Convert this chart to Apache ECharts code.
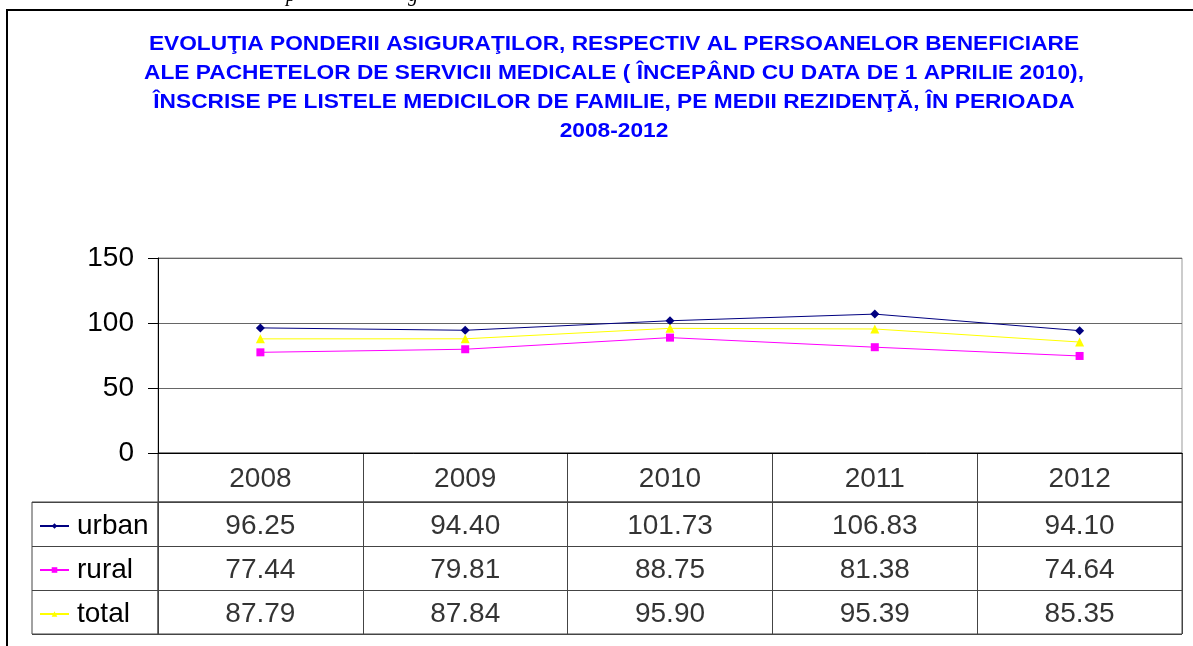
<!DOCTYPE html>
<html>
<head>
<meta charset="utf-8">
<script src="https://cdn.jsdelivr.net/npm/echarts@6/dist/echarts.min.js"></script>
<style>html,body{margin:0;padding:0;background:#fff}#c{width:1193px;height:646px}</style>
</head>
<body>
<div id="c"></div>
<script>
const years = ['2008', '2009', '2010', '2011', '2012'];
const urban = [96.25, 94.40, 101.73, 106.83, 94.10];
const rural = [77.44, 79.81, 88.75, 81.38, 74.64];
const total = [87.79, 87.84, 95.90, 95.39, 85.35];
const rowNames = ['urban', 'rural', 'total'];
const yTicks = { min: 0, max: 150, interval: 50 };
const titleText = 'EVOLUŢIA PONDERII ASIGURAŢILOR, RESPECTIV AL PERSOANELOR BENEFICIARE\nALE PACHETELOR DE SERVICII MEDICALE ( ÎNCEPÂND CU DATA DE 1 APRILIE 2010),\nÎNSCRISE PE LISTELE MEDICILOR DE FAMILIE, PE MEDII REZIDENŢĂ, ÎN PERIOADA\n2008-2012';

const FONT = "'Liberation Sans', Arial, sans-serif";
const colors = { urban: '#000080', rural: '#FF00FF', total: '#FFFF00' };
const symbols = { urban: ['diamond', 9], rural: ['rect', 8], total: ['triangle', 9] };
const seriesData = { urban, rural, total };

const chart = echarts.init(document.getElementById('c'), null, { renderer: 'canvas' });

const lineSeries = rowNames.map(n => ({
  name: n, type: 'line', xAxisIndex: 0, yAxisIndex: 0,
  data: seriesData[n], symbol: symbols[n][0], symbolSize: symbols[n][1],
  lineStyle: { color: colors[n], width: 1 }, itemStyle: { color: colors[n] },
  animation: false, z: 5
}));

const cellLabel = {
  show: true, position: 'inside', offset: [0, 2], fontFamily: FONT, fontSize: 28, color: '#000'
};

const headerSeries = {
  name: '_hdr', type: 'scatter', xAxisIndex: 1, yAxisIndex: 1,
  symbolSize: 1, itemStyle: { color: 'rgba(0,0,0,0)' },
  data: years.map((y, i) => [i, 0, y]),
  label: Object.assign({}, cellLabel, { formatter: p => p.value[2] }),
  silent: true, animation: false
};

const valueSeries = rowNames.map((n, r) => ({
  name: '_v_' + n, type: 'scatter', xAxisIndex: 2, yAxisIndex: 2,
  symbolSize: 1, itemStyle: { color: 'rgba(0,0,0,0)' },
  data: seriesData[n].map((v, i) => [i, r, v]),
  label: Object.assign({}, cellLabel, { formatter: p => p.value[2].toFixed(2) }),
  silent: true, animation: false
}));

const tableLine = { show: true, lineStyle: { color: '#444', width: 1 } };

const option = {
  backgroundColor: '#fff',
  animation: false,
  legend: {
    data: rowNames, orient: 'vertical', left: 39, top: 511, padding: 0,
    itemWidth: 29, itemHeight: 7, itemGap: 14, selectedMode: false,
    textStyle: { fontFamily: FONT, fontSize: 28, color: '#000', lineHeight: 30, padding: [0, 0, 0, 3] }
  },
  grid: [
    { left: 158, right: 11, top: 258, bottom: 193, show: true, borderColor: '#999', borderWidth: 1 },
    { left: 158, right: 11, top: 453, height: 49, show: true, borderColor: '#444', borderWidth: 1 },
    { left: 158, right: 11, top: 502, bottom: 12, show: true, borderColor: '#444', borderWidth: 1 },
    { left: 32, width: 126, top: 502, bottom: 12, show: true, borderColor: '#444', borderWidth: 1 }
  ],
  xAxis: [
    { gridIndex: 0, type: 'category', data: years, boundaryGap: true,
      axisLine: { show: true, lineStyle: { color: '#000', width: 1 } },
      axisTick: { show: false }, axisLabel: { show: false }, splitLine: { show: false } },
    { gridIndex: 1, type: 'category', data: years, boundaryGap: true,
      axisLine: { show: false }, axisTick: { show: false }, axisLabel: { show: false },
      splitLine: Object.assign({ interval: 0 }, tableLine) },
    { gridIndex: 2, type: 'category', data: years, boundaryGap: true,
      axisLine: { show: false }, axisTick: { show: false }, axisLabel: { show: false },
      splitLine: Object.assign({ interval: 0 }, tableLine) },
    { gridIndex: 3, type: 'value', show: false }
  ],
  yAxis: [
    { gridIndex: 0, type: 'value', min: yTicks.min, max: yTicks.max, interval: yTicks.interval,
      axisLine: { show: true, lineStyle: { color: '#000', width: 1 } },
      axisTick: { show: true, length: 10, lineStyle: { color: '#000' } },
      axisLabel: { fontFamily: FONT, fontSize: 28, color: '#000', margin: 24, padding: [4, 0, 0, 0] },
      splitLine: { show: true, lineStyle: { color: '#666', width: 1 } } },
    { gridIndex: 1, type: 'value', min: -1, max: 1, show: false },
    { gridIndex: 2, type: 'category', data: rowNames, inverse: true, boundaryGap: true,
      axisLine: { show: false }, axisTick: { show: false }, axisLabel: { show: false },
      splitLine: Object.assign({ interval: 0 }, tableLine) },
    { gridIndex: 3, type: 'category', data: rowNames, inverse: true, boundaryGap: true,
      axisLine: { show: false }, axisTick: { show: false }, axisLabel: { show: false },
      splitLine: Object.assign({ interval: 0 }, tableLine) }
  ],
  graphic: [
    { type: 'rect', shape: { x: 7, y: 10, width: 1300, height: 800 },
      style: { fill: 'none', stroke: '#000', lineWidth: 2 }, silent: true, z: -1 },
    { type: 'text', x: 286, y: -14, style: { text: 'p', font: "italic 20px 'Liberation Serif', serif", fill: '#000' }, silent: true },
    { type: 'text', x: 408, y: -14, style: { text: 'g', font: "italic 20px 'Liberation Serif', serif", fill: '#000' }, silent: true },
    { type: 'text', x: 614, y: 30.5, scaleX: 1.165, scaleY: 1,
      style: { text: titleText, fontFamily: FONT, fontSize: 19.5, fontWeight: 'bold', fill: '#0000FF',
               lineHeight: 28.8, align: 'center', verticalAlign: 'top' }, silent: true }
  ],
  series: lineSeries.concat([headerSeries], valueSeries)
};

chart.setOption(option);
</script>
</body>
</html>
